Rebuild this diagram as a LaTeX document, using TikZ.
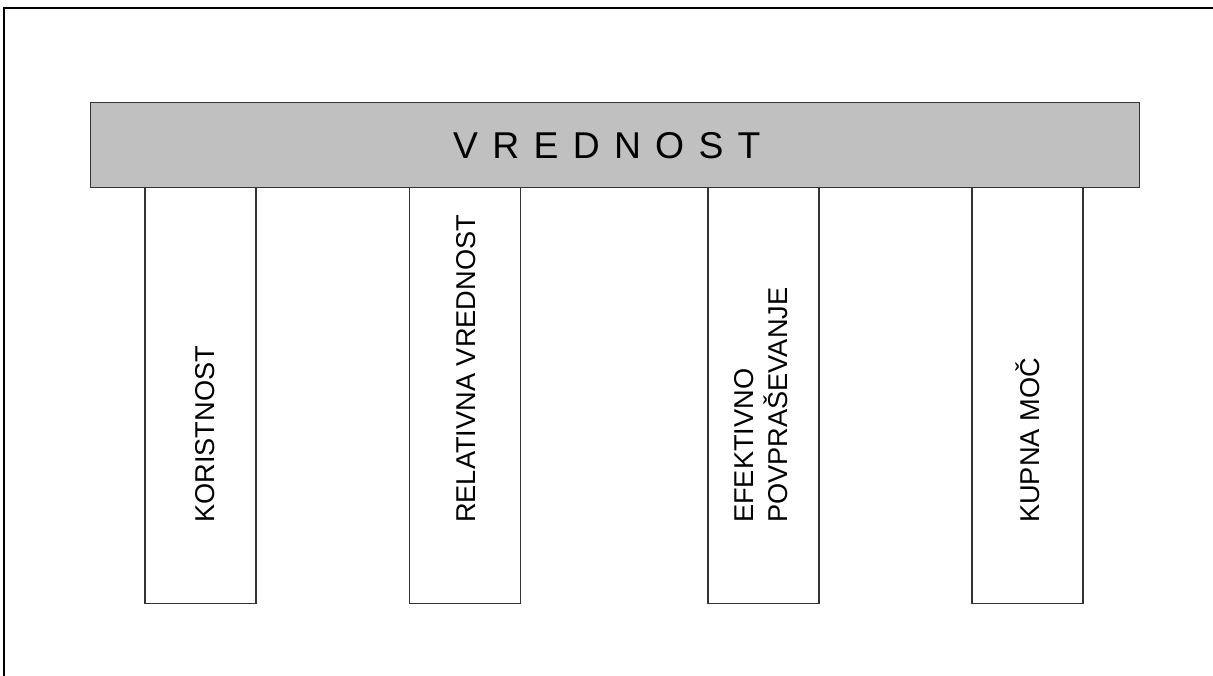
\documentclass[tikz,border=0pt]{standalone}
\usepackage{fontspec}
\setmainfont{Liberation Sans}
\definecolor{bargray}{HTML}{C0C0C0}
\definecolor{edge}{HTML}{333333}
\begin{document}
\begin{tikzpicture}[x=1pt,y=-1pt,
  frame/.style={line width=2.2pt,black},
  bar/.style={draw=edge,line width=1.4pt,fill=bargray,inner sep=0pt,anchor=north west},
  pillar/.style={draw=edge,line width=1.1pt,fill=white,inner sep=0pt,anchor=north,
    minimum width=111pt,minimum height=417pt},
  lbl/.style={rotate=90,inner sep=0pt,font=\fontsize{27.2}{34}\selectfont}]
\useasboundingbox (0,0) rectangle (1213,675);
\clip (0,0) rectangle (1213,675);
\coordinate (fa) at (4,700);
\coordinate (fb) at (4,7.8);
\coordinate (fc) at (1240,7.8);
\draw[frame] (fa) -- (fb) -- (fc);
% pillars
\node[pillar] (koristnost) at (200.5,186) {};
\node[pillar] (relativna) at (465,186) {};
\node[pillar] (efektivno) at (763.5,186) {};
\node[pillar] (kupna) at (1027.5,186) {};
% top bar
\node[bar,minimum width=1049pt,minimum height=84.5pt] (vrednost) at (90,102) {};
\node[anchor=base west,inner sep=0pt,font=\fontsize{37.3}{40}\selectfont] (vtitle) at (453,158)
  {V\kern14.3pt R\kern14.3pt E\kern14.3pt D\kern14.3pt N\kern14.3pt O\kern14.3pt S\kern14.3pt T};
% labels
\node[lbl,anchor=base west] (lk) at (214.5,523) {KORISTNOST};
\node[lbl,anchor=base west] (lr) at (475,523) {RELATIVNA VREDNOST};
\node[lbl,anchor=west,align=left] (le) at (761.5,523) {EFEKTIVNO\\POVPRAŠEVANJE};
\node[lbl,anchor=base west] (lu) at (1039,523) {KUPNA MOČ};
\end{tikzpicture}
\end{document}
